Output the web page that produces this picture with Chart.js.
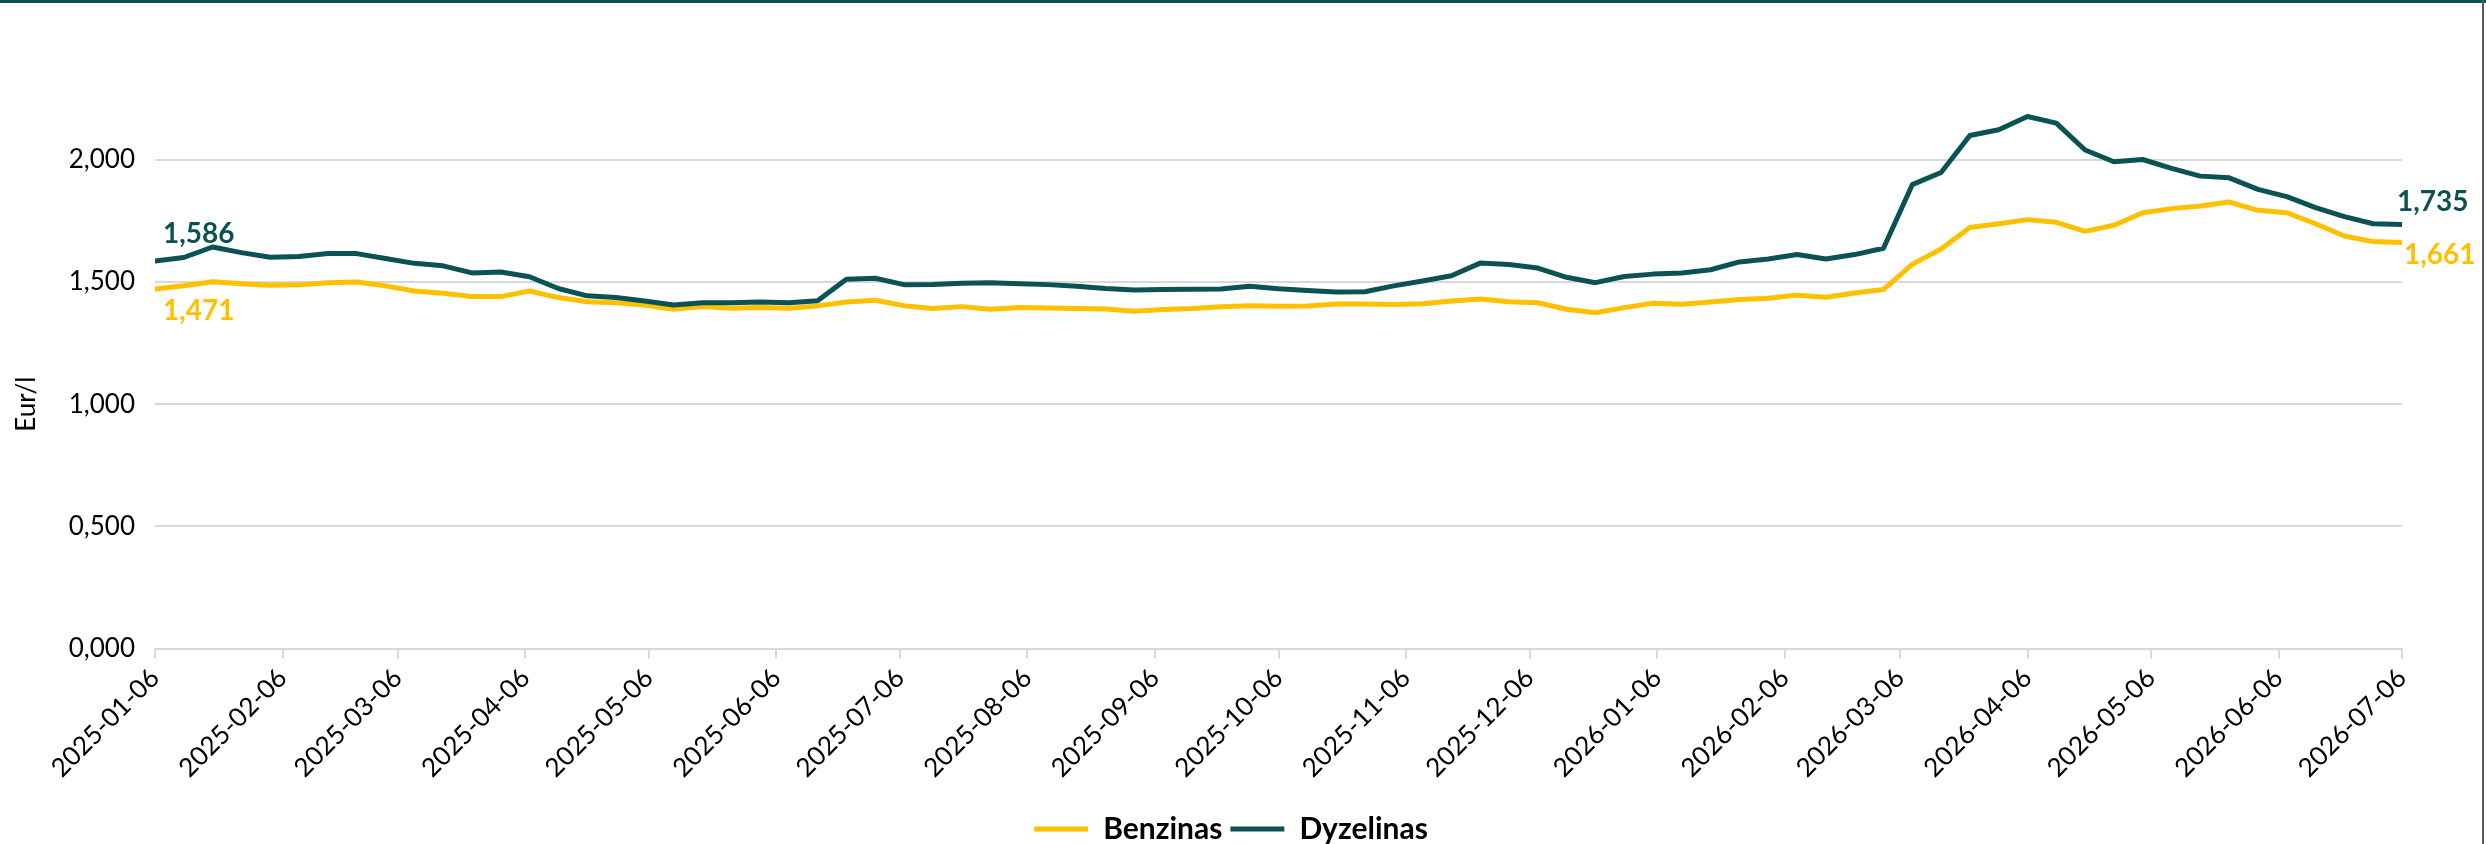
<!DOCTYPE html>
<html>
<head>
<meta charset="utf-8">
<script src="https://cdn.jsdelivr.net/npm/chart.js@4.4.1/dist/chart.umd.min.js"></script>
<style>
  html, body { margin: 0; padding: 0; background: #fff; }
  canvas { display: block; }
</style>
</head>
<body>
<canvas id="fuelChart" width="2486" height="844"></canvas>
<script>
// weekly prices, Eur/l, first week 2025-01-06
const firstWeek = "2025-01-06";
const benzinas = [
  1.471, 1.484, 1.501, 1.493, 1.486, 1.488, 1.497, 1.500, 1.484, 1.463,
  1.454, 1.440, 1.440, 1.463, 1.436, 1.419, 1.415, 1.406, 1.388, 1.399,
  1.392, 1.395, 1.392, 1.402, 1.418, 1.425, 1.403, 1.391, 1.399, 1.388,
  1.395, 1.393, 1.391, 1.389, 1.380, 1.387, 1.391, 1.398, 1.403, 1.401,
  1.402, 1.410, 1.410, 1.408, 1.411, 1.422, 1.430, 1.419, 1.415, 1.388,
  1.374, 1.395, 1.413, 1.409, 1.418, 1.428, 1.433, 1.446, 1.437, 1.455,
  1.469, 1.572, 1.635, 1.723, 1.738, 1.755, 1.744, 1.707, 1.732, 1.783,
  1.800, 1.811, 1.827, 1.793, 1.783, 1.738, 1.688, 1.665, 1.661
];
const dyzelinas = [
  1.586, 1.600, 1.643, 1.620, 1.601, 1.604, 1.616, 1.616, 1.596, 1.576,
  1.566, 1.537, 1.541, 1.521, 1.473, 1.443, 1.436, 1.422, 1.406, 1.415,
  1.415, 1.418, 1.415, 1.423, 1.511, 1.515, 1.489, 1.490, 1.495, 1.497,
  1.493, 1.489, 1.482, 1.473, 1.467, 1.469, 1.470, 1.471, 1.482, 1.472,
  1.465, 1.459, 1.460, 1.484, 1.504, 1.525, 1.577, 1.571, 1.557, 1.519,
  1.497, 1.522, 1.532, 1.537, 1.550, 1.582, 1.594, 1.612, 1.594, 1.612,
  1.638, 1.898, 1.948, 2.099, 2.123, 2.177, 2.150, 2.040, 1.992, 2.001,
  1.965, 1.933, 1.926, 1.879, 1.849, 1.804, 1.767, 1.738, 1.735
];
const xTickLabels = [
  "2025-01-06", "2025-02-06", "2025-03-06", "2025-04-06", "2025-05-06",
  "2025-06-06", "2025-07-06", "2025-08-06", "2025-09-06", "2025-10-06",
  "2025-11-06", "2025-12-06", "2026-01-06", "2026-02-06", "2026-03-06",
  "2026-04-06", "2026-05-06", "2026-06-06", "2026-07-06"
];
const yAxisTitle = "Eur/l";

const colBenz = "#FFC000";
const colDyz = "#0B5254";

const DAY = 86400000;
function toUtc(s) {
  const [y, m, d] = s.split("-").map(Number);
  return Date.UTC(y, m - 1, d);
}
// days from first week
function dayOf(s) {
  return Math.round((toUtc(s) - toUtc(firstWeek)) / DAY);
}
const tickDays = xTickLabels.map(dayOf);
const weekly = arr => arr.map((v, i) => ({ x: i * 7, y: v }));
const fmt = v => v.toFixed(3).replace(".", ",");

const frame = {
  id: "frame",
  beforeDraw(chart) {
    const { ctx, width, height } = chart;
    ctx.save();
    ctx.fillStyle = "#fff";
    ctx.fillRect(0, 0, width, height);
    ctx.fillStyle = "#0E4F51";
    ctx.fillRect(0, 0, width, 3);
    ctx.fillStyle = "#595959";
    ctx.fillRect(width - 4, 0, 2, height);
    ctx.restore();
  }
};

const axisTitle = {
  id: "axisTitle",
  afterDraw(chart) {
    const { ctx } = chart;
    const y = chart.scales.y.getPixelForValue(1);
    ctx.save();
    ctx.translate(27, y);
    ctx.rotate(-Math.PI / 2);
    ctx.font = "26px Lato";
    ctx.fillStyle = "#000";
    ctx.textAlign = "center";
    ctx.textBaseline = "middle";
    ctx.fillText(yAxisTitle, 0, 0);
    ctx.restore();
  }
};

// first and last values next to the lines
const endLabels = {
  id: "endLabels",
  afterDatasetsDraw(chart) {
    const { ctx } = chart;
    ctx.save();
    ctx.font = "bold 28px Lato";
    ctx.textBaseline = "middle";
    ctx.textAlign = "left";
    chart.data.datasets.forEach((ds, di) => {
      const pts = chart.getDatasetMeta(di).data;
      const n = pts.length - 1;
      const up = ds.label === "Dyzelinas";
      ctx.fillStyle = ds.borderColor;
      ctx.fillText(fmt(ds.data[0].y), pts[0].x + 8, pts[0].y + (up ? -27 : 22));
      ctx.fillText(fmt(ds.data[n].y), pts[n].x + (up ? -5 : 2), pts[n].y + (up ? -23 : 12));
    });
    ctx.restore();
  }
};

Chart.defaults.font.family = "Lato";
Chart.defaults.color = "#000";

new Chart(document.getElementById("fuelChart"), {
  type: "line",
  data: {
    datasets: [
      {
        label: "Benzinas",
        data: weekly(benzinas),
        borderColor: colBenz,
        backgroundColor: colBenz,
        borderWidth: 5,
        borderCapStyle: "round",
        borderJoinStyle: "round",
        pointRadius: 0,
        tension: 0,
        order: 1
      },
      {
        label: "Dyzelinas",
        data: weekly(dyzelinas),
        borderColor: colDyz,
        backgroundColor: colDyz,
        borderWidth: 5,
        borderCapStyle: "round",
        borderJoinStyle: "round",
        pointRadius: 0,
        tension: 0,
        order: 0
      }
    ]
  },
  options: {
    responsive: false,
    devicePixelRatio: 1,
    animation: false,
    layout: { padding: { left: 60, right: 84, top: 62, bottom: -10 } },
    plugins: {
      tooltip: { enabled: false },
      legend: {
        position: "bottom",
        labels: {
          usePointStyle: true,
          pointStyle: "line",
          pointStyleWidth: 54,
          padding: 8,
          font: { size: 30, weight: "bold" },
          color: "#000",
          sort: (a, b) => a.datasetIndex - b.datasetIndex
        }
      }
    },
    scales: {
      x: {
        type: "linear",
        min: 0,
        max: tickDays[tickDays.length - 1],
        afterBuildTicks: scale => {
          scale.ticks = tickDays.map(v => ({ value: v }));
        },
        afterFit: scale => { scale.height = 157.5; },
        ticks: {
          autoSkip: false,
          minRotation: 45,
          maxRotation: 45,
          padding: 4,
          font: { size: 26 },
          color: "#000",
          callback: (v, i) => xTickLabels[i]
        },
        grid: { drawOnChartArea: false, tickLength: 10, color: "#d9d9d9", lineWidth: 2 },
        border: { color: "#d9d9d9", width: 2 }
      },
      y: {
        min: 0,
        max: 2.4,
        afterFit: scale => { scale.width = 95; },
        ticks: {
          stepSize: 0.5,
          includeBounds: false,
          padding: 20,
          font: { size: 26 },
          color: "#000",
          callback: v => fmt(v)
        },
        grid: { color: "#d9d9d9", lineWidth: 2, drawTicks: false },
        border: { display: false }
      }
    }
  },
  plugins: [frame, axisTitle, endLabels]
});
</script>
</body>
</html>
